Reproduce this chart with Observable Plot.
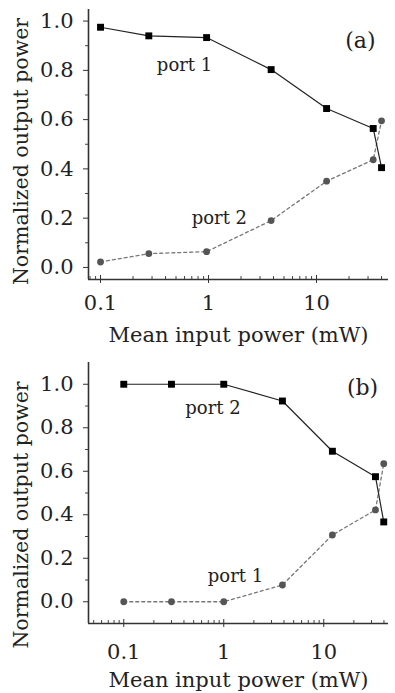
<!DOCTYPE html>
<html>
<head>
<meta charset="utf-8">
<script src="https://cdn.jsdelivr.net/npm/d3@7"></script>
<script src="https://cdn.jsdelivr.net/npm/@observablehq/plot@0.6"></script>
<style>
  html, body { margin: 0; padding: 0; background: #fff; }
  #chart { width: 395px; }
  #chart svg { display: block; }
</style>
</head>
<body>
<div id="chart"></div>
<script>
// ---- Panel (a) data ----
const aPort1Power = [0.1, 0.28, 0.96, 3.8, 12.4, 33.5, 40];
const aPort1Value = [0.975, 0.94, 0.933, 0.803, 0.645, 0.564, 0.405];
const aPort2Power = [0.1, 0.28, 0.96, 3.8, 12.4, 33.5, 40];
const aPort2Value = [0.022, 0.056, 0.064, 0.19, 0.35, 0.437, 0.595];

// ---- Panel (b) data ----
const bPort2Power = [0.1, 0.3, 1, 3.86, 12.2, 32.9, 39.8];
const bPort2Value = [1.0, 1.0, 1.0, 0.923, 0.692, 0.575, 0.367];
const bPort1Power = [0.1, 0.3, 1, 3.86, 12.2, 32.9, 39.8];
const bPort1Value = [0.0, 0.0, 0.0, 0.077, 0.307, 0.422, 0.635];

// ---- Axis ticks / labels ----
const yMajorTicks = [0, 0.2, 0.4, 0.6, 0.8, 1.0];
const yMinorTicks = [0.1, 0.3, 0.5, 0.7, 0.9];
const xMajorTicks = [0.1, 1, 10];
const xMinorTicksA = [0.08, 0.09, 0.2, 0.3, 0.4, 0.5, 0.6, 0.7, 0.8, 0.9, 2, 3, 4, 5, 6, 7, 8, 9, 20, 30, 40];
const xMinorTicksB = [0.05, 0.06, 0.07, 0.08, 0.09, 0.2, 0.3, 0.4, 0.5, 0.6, 0.7, 0.8, 0.9, 2, 3, 4, 5, 6, 7, 8, 9, 20, 30, 40];
const xTitle = "Mean input power (mW)";
const yTitle = "Normalized output power";

const FONT = "DejaVu Serif";

function rows(xs, ys) { return xs.map((x, i) => ({x, y: ys[i]})); }

function panel(cfg) {
  const solid = rows(cfg.solidX, cfg.solidY);
  const dashed = rows(cfg.dashedX, cfg.dashedY);
  return Plot.plot({
    width: 395,
    height: cfg.height,
    marginLeft: 88,
    marginRight: 7,
    marginTop: cfg.marginTop,
    marginBottom: cfg.marginBottom,
    style: {fontFamily: FONT, fontSize: "20px", color: "#222", background: "#fff", overflow: "visible"},
    x: {type: "log", domain: cfg.xDomain},
    y: {domain: cfg.yDomain},
    marks: [
      Plot.axisY(yMajorTicks, {tickSize: 5, tickPadding: 10, tickFormat: d3.format(".1f"), label: null, fontSize: 21, stroke: "#333", fill: "#222"}),
      Plot.axisY(yMinorTicks, {tickSize: 3, text: null, label: null, stroke: "#444"}),
      Plot.axisX(xMajorTicks, {tickSize: 4, tickPadding: cfg.xTickPadding, tickFormat: d => String(d), label: null, fontSize: 21, stroke: "#333", fill: "#222"}),
      Plot.axisX(xMajorTicks, {tickSize: -4, text: null, label: null, stroke: "#333"}),
      Plot.axisX(cfg.xMinor, {tickSize: -3, text: null, label: null, stroke: "#444"}),
      Plot.ruleX([cfg.xDomain[0]], {stroke: "#333", strokeWidth: 1.6}),
      Plot.ruleY([cfg.yDomain[0]], {stroke: "#333", strokeWidth: 1.6}),
      Plot.line(dashed, {x: "x", y: "y", stroke: "#777", strokeWidth: 1.3, strokeDasharray: "3,3"}),
      Plot.line(solid, {x: "x", y: "y", stroke: "#222", strokeWidth: 1.2}),
      Plot.dot(dashed, {x: "x", y: "y", r: 3.4, fill: "#555", stroke: "none"}),
      Plot.dot(solid, {x: "x", y: "y", symbol: "square", r: 3.9, fill: "#000", stroke: "none"}),
      Plot.text(cfg.notes, {x: "x", y: "y", text: "t", fontSize: d => d.s, fill: "#222"}),
      Plot.text([yTitle], {frameAnchor: "left", textAnchor: "middle", lineAnchor: "middle", rotate: -90, dx: -67, dy: cfg.yTitleDy, fontSize: 20.5, fill: "#222"}),
      Plot.text([xTitle], {frameAnchor: "bottom", textAnchor: "middle", lineAnchor: "middle", dy: cfg.xTitleDy, fontSize: 21, fill: "#222"})
    ]
  });
}

const chart = document.getElementById("chart");
chart.append(panel({
  height: 348, marginTop: 9, marginBottom: 69,
  xDomain: [0.0774, 46.4], yDomain: [-0.049, 1.047],
  xMinor: xMinorTicksA, xTickPadding: 12,
  solidX: aPort1Power, solidY: aPort1Value,
  dashedX: aPort2Power, dashedY: aPort2Value,
  notes: [{x: 25.5, y: 0.92, t: "(a)", s: 22}, {x: 0.6, y: 0.82, t: "port 1", s: 18}, {x: 1.26, y: 0.20, t: "port 2", s: 18}],
  yTitleDy: 7, xTitleDy: 56
}));
chart.append(panel({
  height: 345, marginTop: 14, marginBottom: 70,
  xDomain: [0.0444, 44.4], yDomain: [-0.1, 1.1],
  xMinor: xMinorTicksB, xTickPadding: 17,
  solidX: bPort2Power, solidY: bPort2Value,
  dashedX: bPort1Power, dashedY: bPort1Value,
  notes: [{x: 24.4, y: 0.983, t: "(b)", s: 22}, {x: 0.78, y: 0.891, t: "port 2", s: 18}, {x: 1.31, y: 0.118, t: "port 1", s: 18}],
  yTitleDy: 22, xTitleDy: 57
}));
</script>
</body>
</html>
